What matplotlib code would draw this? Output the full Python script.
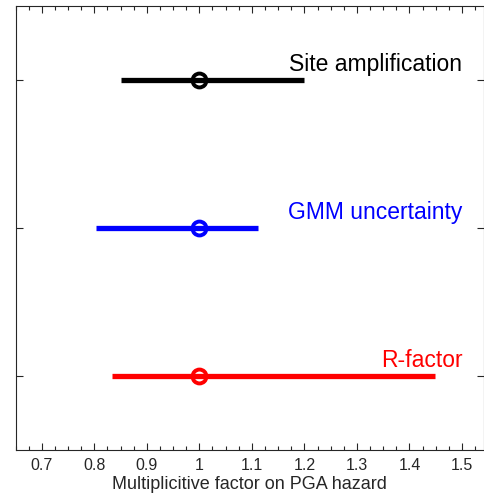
import numpy as np
import matplotlib
matplotlib.use('Agg')
from matplotlib import pyplot as plt
from matplotlib.ticker import MultipleLocator

plt.rcParams['font.family'] = ['Liberation Sans', 'DejaVu Sans']

# data: bottom to top
labels = ['R-factor', 'GMM uncertainty', 'Site amplification']
colors = ['#ff0000', '#0000ff', '#000000']
lows = [0.834, 0.804, 0.850]
highs = [1.448, 1.112, 1.200]
centres = [1.0, 1.0, 1.0]
ypos = [1, 2, 3]

fig = plt.figure(figsize=(4.85, 4.97), dpi=100, facecolor='w')
ax = fig.add_axes([0.032, 0.0946, 0.966, 0.8934])

axcol = '#262626'
for y, lo, hi, c, col, lab in zip(ypos, lows, highs, centres, colors, labels):
    ax.plot([lo, hi], [y, y], color=col, lw=3.8, solid_capstyle='butt')
    ax.plot([c], [y], 'o', ms=10, mfc='none', mec=col, mew=2.8)
    ax.text(1.501, y + 0.03, lab, color=col, fontsize=16.5,
            ha='right', va='bottom')

ax.set_xlim(0.65, 1.542)
ax.set_ylim(0.5, 3.5)
ax.xaxis.set_minor_locator(MultipleLocator(0.025))
ax.set_xticks(np.arange(0.7, 1.51, 0.1))
ax.set_xticklabels(['0.7', '0.8', '0.9', '1', '1.1', '1.2', '1.3', '1.4', '1.5'])
ax.set_yticks(ypos)
ax.set_yticklabels([])
ax.tick_params(which='both', direction='in', top=True, right=True,
               colors=axcol, labelsize=11.5)
ax.tick_params(which='major', length=5, width=0.8, pad=6)
ax.tick_params(which='minor', length=3, width=0.8)
for s in ax.spines.values():
    s.set_color(axcol)
    s.set_linewidth(0.8)
ax.set_xlabel('Multiplicitive factor on PGA hazard', fontsize=13,
              color=axcol, labelpad=2)

fig.savefig('out.png', dpi=100)
plt.close(fig)
